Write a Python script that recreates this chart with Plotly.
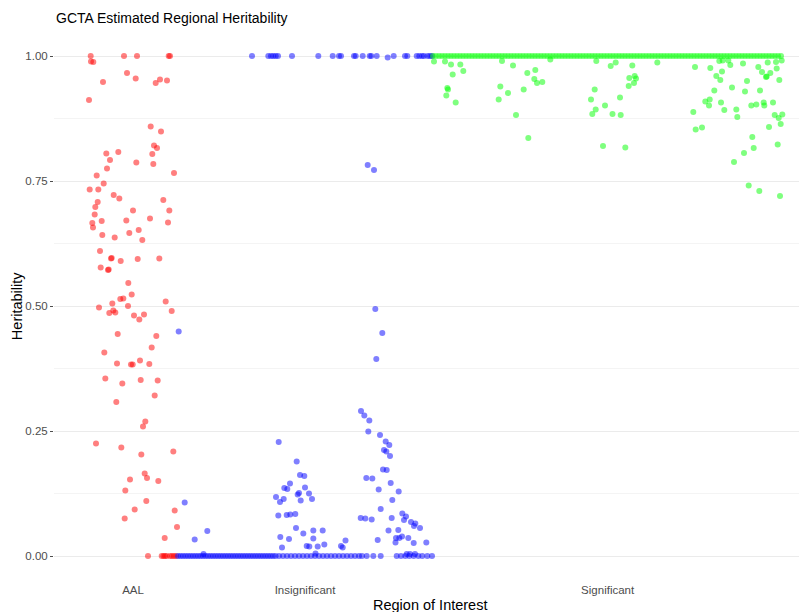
import plotly.graph_objects as go

# ---------------- data ----------------
groups = ["AAL", "Insignificant", "Significant"]
group_colors = ["#FF0000", "#0000FF", "#00FF00"]

# AAL regions: position along the region axis and heritability
aal_x = [90.7, 124, 137, 168.7, 170, 91, 93.3, 127, 103, 135.7,
         155.7, 160, 167, 89, 150.7, 161, 154, 157, 106.3, 118.3,
         152.3, 110, 136.3, 153.3, 107, 174, 96.7, 103.7, 89.7, 98.3,
         113.7, 119.3, 163.3, 97.7, 95.3, 133, 169.3, 94.7, 150, 126.3,
         92.3, 168, 101.7, 93, 138.7, 129.3, 102.3, 114.7, 142.3, 100,
         111, 111.7, 120.7, 137.7, 159.3, 100.7, 108, 108.7, 128.3, 131.7,
         120.3, 123.3, 128, 99, 112.3, 165.7, 109.3, 113.3, 115.3, 134,
         139.3, 144, 171.7, 117.7, 156.3, 151.7, 104.3, 117, 131, 132.7,
         140, 149.3, 105.3, 122.3, 140.7, 157.7, 154.7, 116.3, 145.3, 143,
         96, 121.3, 141.3, 173.3, 144.7, 147, 130, 158.3, 125.3, 146.3,
         134.7, 124.7, 174.7, 177, 164.7,
         148, 161.7, 163.5, 165, 166.7, 170, 172, 174, 176]
aal_y = [1.0, 1.0, 1.0, 1.0, 1.0, 0.989, 0.988, 0.966, 0.948, 0.955,
         0.946, 0.953, 0.951, 0.912, 0.859, 0.849, 0.821, 0.816, 0.805, 0.808,
         0.804, 0.792, 0.787, 0.784, 0.775, 0.766, 0.761, 0.745, 0.733, 0.733,
         0.722, 0.715, 0.712, 0.708, 0.698, 0.691, 0.691, 0.683, 0.675, 0.671,
         0.666, 0.667, 0.670, 0.657, 0.652, 0.646, 0.642, 0.637, 0.632, 0.610,
         0.595, 0.596, 0.590, 0.594, 0.595, 0.577, 0.572, 0.573, 0.546, 0.523,
         0.514, 0.515, 0.500, 0.497, 0.505, 0.509, 0.486, 0.491, 0.487, 0.481,
         0.473, 0.483, 0.490, 0.444, 0.440, 0.417, 0.407, 0.385, 0.383, 0.383,
         0.391, 0.384, 0.355, 0.345, 0.352, 0.351, 0.321, 0.308, 0.269, 0.259,
         0.225, 0.217, 0.203, 0.209, 0.165, 0.156, 0.153, 0.150, 0.131, 0.110,
         0.093, 0.075, 0.091, 0.058, 0.036,
         0.0, 0.0, 0.0, 0.0, 0.0, 0.0, 0.0, 0.0, 0.0]

# Insignificant regions
insig_x = [387.7,
           178.7, 184.7, 194.7, 207.3, 203.5,
           278.7, 296.7, 300, 304.3, 290, 284.3, 287.3, 305, 276, 280,
           283.7, 297.7, 299, 300.7, 309, 312, 278.3, 286.7, 290.3, 295.3,
           296, 303.3, 280.3, 289, 282, 306.7, 309.3, 313.3, 322.7, 313.3,
           317.7, 324.3, 315.5, 341, 342.7, 345.5,
           367.7, 374, 375.3, 382.3, 376.3, 361, 364.3, 369.3, 368.3, 380,
           385.7, 389.3, 384, 386.3, 390, 383, 386.7, 366.3, 372.3, 390.7,
           378.7, 398.7, 392.3, 380.7, 360.7, 365.3, 371.7, 391.7, 402.3, 406,
           404, 411, 415.3, 414, 420, 398.3, 388.5, 377.7, 395.5, 399.3,
           402, 396, 408.3, 413.7, 426.3, 406.7, 410, 415]
insig_y = [0.997,
           0.449, 0.107, 0.033, 0.050, 0.004,
           0.228, 0.189, 0.162, 0.160, 0.145, 0.136, 0.134, 0.137, 0.118, 0.108,
           0.114, 0.123, 0.126, 0.111, 0.125, 0.114, 0.081, 0.082, 0.083, 0.084,
           0.056, 0.045, 0.038, 0.034, 0.017, 0.020, 0.019, 0.051, 0.051, 0.035,
           0.019, 0.023, 0.005, 0.020, 0.017, 0.031,
           0.782, 0.772, 0.494, 0.446, 0.394, 0.290, 0.281, 0.271, 0.249, 0.242,
           0.229, 0.222, 0.212, 0.209, 0.200, 0.173, 0.172, 0.156, 0.155, 0.146,
           0.133, 0.129, 0.112, 0.094, 0.076, 0.075, 0.073, 0.076, 0.085, 0.079,
           0.072, 0.068, 0.065, 0.060, 0.056, 0.052, 0.051, 0.032, 0.027, 0.036,
           0.039, 0.036, 0.036, 0.026, 0.027, 0.004, 0.004, 0.004]
# insignificant regions whose heritability is exactly 1
insig_one_x = [252, 268.3, 271, 273.3, 275.7, 278, 292, 318.3, 332.7, 339,
               341, 354, 355.7, 362.7, 369.7, 371.3, 376.7, 393.7, 405, 407.3,
               416.7, 419.3, 422, 424, 427.7, 430, 432]
# insignificant regions whose heritability is exactly 0
insig_zero_x = [178, 180.5, 183, 185.5, 188, 190.5, 193, 195.5, 198, 200.5,
                203, 205.5, 208, 210.5, 213, 215.5, 218, 220.5, 223, 225.5,
                228, 230.5, 233, 235.5, 238, 240.5, 243, 245.5, 248, 250.5,
                253, 255.5, 258, 260.5, 263, 265.5, 268, 270.5, 273, 275.5,
                279, 283, 287, 291, 295, 299, 303, 307, 311, 315,
                319, 323, 327, 331, 335, 339, 343, 347, 351, 355,
                359, 362, 366.7, 373.3, 380.7, 396.7, 401, 405.3, 409.3, 413.7,
                418.3, 422.3, 427.3, 432]

# Significant regions
sig_x = [434, 445, 451, 460.3, 452.7, 463.3, 447.3, 448, 446.3, 455.7,
         502, 513, 527.3, 535.3, 534.3, 537, 542.3, 500.3, 508, 523.7,
         498.7, 516, 528.3, 550.3, 596.3, 610.7, 615.7, 594.7, 591, 595.7,
         592.3, 605, 612.5, 603, 620, 620.7, 625.3, 632.3, 629.3, 634.7,
         636, 628.7, 634, 657.3, 695, 710.3, 716.3, 720.3, 722, 714.3,
         705.3, 709.7, 709, 721, 724.3, 693.3, 695.7, 702, 719.3, 722.7,
         728.3, 730.3, 743, 732, 747, 745, 736.3, 737.3, 734, 752.3,
         753.7, 744, 751.3, 756.3, 758.3, 762, 766, 766.7, 760, 763.7,
         764.3, 767.7, 776, 781.7, 770.3, 776.7, 779.3, 773, 774.7, 778.7,
         782.3, 780.7, 769, 777.7, 748.7, 759.3, 780]
sig_y = [0.989, 0.989, 0.983, 0.983, 0.963, 0.970, 0.936, 0.933, 0.921, 0.907,
         0.990, 0.981, 0.966, 0.972, 0.954, 0.946, 0.948, 0.939, 0.926, 0.933,
         0.913, 0.882, 0.836, 0.993, 0.990, 0.980, 0.987, 0.933, 0.913, 0.893,
         0.884, 0.901, 0.884, 0.820, 0.917, 0.882, 0.817, 0.981, 0.956, 0.960,
         0.955, 0.940, 0.946, 0.987, 0.978, 0.976, 0.960, 0.952, 0.969, 0.931,
         0.909, 0.913, 0.901, 0.907, 0.892, 0.888, 0.853, 0.857, 0.990, 0.991,
         0.991, 0.982, 0.985, 0.937, 0.950, 0.929, 0.893, 0.878, 0.788, 0.838,
         0.816, 0.806, 0.901, 0.903, 0.978, 0.968, 0.958, 0.959, 0.931, 0.907,
         0.901, 0.987, 0.988, 0.991, 0.966, 0.975, 0.952, 0.907, 0.882, 0.876,
         0.883, 0.864, 0.858, 0.823, 0.741, 0.730, 0.720]
# significant regions whose heritability is exactly 1
sig_one_x = [433, 436, 439, 442, 445, 448, 451, 454, 457, 460,
             463, 466, 469, 472, 475, 478, 481, 484, 487, 490,
             493, 496, 499, 502, 505, 508, 511, 514, 517, 520,
             523, 526, 529, 532, 535, 538, 541, 544, 547, 550,
             553, 556, 559, 562, 565, 568, 571, 574, 577, 580,
             583, 586, 589, 592, 595, 598, 601, 604, 607, 610,
             613, 616, 619, 622, 625, 628, 631, 634, 637, 640,
             643, 646, 649, 652, 655, 658, 661, 664, 667, 670,
             673, 676, 679, 682, 685, 688, 691, 694, 697, 700,
             703, 706, 709, 712, 715, 718, 721, 724, 727, 730,
             733, 736, 739, 742, 745, 748, 751, 754, 757, 760,
             763, 766, 769, 772, 775, 778, 781]

y_tick_vals = [0, 0.25, 0.5, 0.75, 1.0]
y_tick_text = ["0.00", "0.25", "0.50", "0.75", "1.00"]

# ---------------- assemble ----------------
series_x = [
    aal_x,
    insig_x + insig_one_x + insig_zero_x,
    sig_x + sig_one_x,
]
series_y = [
    aal_y,
    insig_y + [1.0 for _ in insig_one_x] + [0.0 for _ in insig_zero_x],
    sig_y + [1.0 for _ in sig_one_x],
]

fig = go.Figure()
for name, col, xs, ys in zip(groups, group_colors, series_x, series_y):
    fig.add_trace(go.Scatter(
        x=xs, y=ys, mode="markers", name=name,
        marker=dict(color=col, size=6, opacity=0.5, line=dict(width=0)),
    ))

tick_centres = [(min(xs) + max(xs)) / 2 for xs in series_x]

FONT = "Liberation Sans, Arial, Helvetica, sans-serif"
fig.update_layout(
    width=807, height=612,
    # the page body adds an 8 px offset, compensated here
    margin=dict(l=46, r=9, t=23, b=39, autoexpand=False),
    plot_bgcolor="white", paper_bgcolor="white",
    showlegend=False,
    font=dict(family=FONT, color="#4d4d4d"),
    xaxis=dict(
        range=[54, 806], tickvals=tick_centres, ticktext=groups,
        showgrid=False, zeroline=False, showline=False, ticks="",
        automargin=False,
        tickfont=dict(size=11.5, color="#4d4d4d", family=FONT),
    ),
    yaxis=dict(
        range=[-0.05, 1.05], tickvals=y_tick_vals, ticktext=y_tick_text,
        showgrid=True, gridcolor="#ebebeb", gridwidth=1,
        zeroline=False, showline=False, automargin=False,
        ticks="outside", ticklen=3, tickwidth=1, tickcolor="#4d4d4d",
        tickfont=dict(size=11.5, color="#4d4d4d", family=FONT),
        minor=dict(tickvals=[0.125, 0.375, 0.625, 0.875], showgrid=True,
                   gridcolor="#f4f4f4", gridwidth=1, ticks=""),
    ),
    annotations=[
        dict(text="GCTA Estimated Regional Heritability", xref="paper", yref="paper",
             x=0, y=1.0236, xanchor="left", yanchor="middle", showarrow=False,
             font=dict(size=14, color="black", family=FONT)),
        dict(text="Region of Interest", xref="paper", yref="paper",
             x=0.5, y=-0.043, xanchor="center", yanchor="middle", showarrow=False,
             font=dict(size=14.5, color="black", family=FONT)),
        dict(text="Heritability", xref="paper", yref="paper",
             x=-0.049, y=0.5, xanchor="center", yanchor="middle", showarrow=False,
             textangle=-90, font=dict(size=14.5, color="black", family=FONT)),
    ],
)

fig.write_html("out.html")
